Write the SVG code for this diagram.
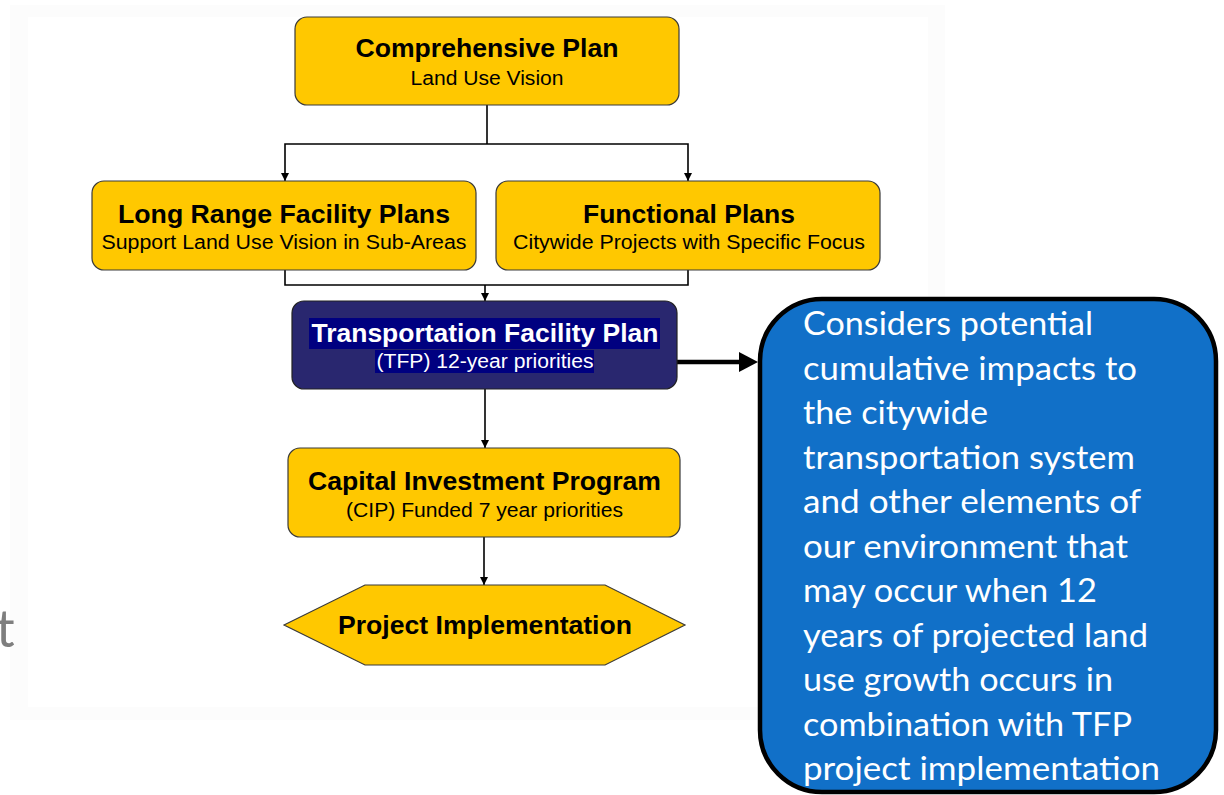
<svg xmlns="http://www.w3.org/2000/svg" width="1224" height="795" viewBox="0 0 1224 795">
<style>
.box{fill:#FFC800;stroke:#3a3a3a;stroke-width:1.2}
.t{font-family:"Liberation Sans",Arial,sans-serif;font-weight:bold;font-size:25px;fill:#000;text-anchor:middle}
.s{font-family:"Liberation Sans",Arial,sans-serif;font-size:20px;fill:#000;text-anchor:middle}
.c{font-family:Lato,"Open Sans",sans-serif;font-size:32px;fill:#fff}
.ln{fill:none;stroke:#000;stroke-width:1.6}
</style>
<defs>
<marker id="ah" viewBox="0 0 10 10" refX="10" refY="5" markerWidth="8" markerHeight="8" markerUnits="userSpaceOnUse" orient="auto">
<path d="M0,0 L10,5 L0,10 z" fill="#000"/>
</marker>
</defs>
<rect width="1224" height="795" fill="#fff"/>
<rect x="10" y="5" width="935" height="715" fill="#FCFCFC"/>
<rect x="28" y="17" width="900" height="690" fill="#FFFFFF"/>
<text x="-4" y="647" font-family="Lato,'Open Sans',sans-serif" font-size="52" fill="#7F7F7F">t</text>

<g id="connectors">
<polyline class="ln" points="487,105 487,144"/>
<polyline class="ln" points="487,144 285,144 285,181" marker-end="url(#ah)"/>
<polyline class="ln" points="487,144 688,144 688,181" marker-end="url(#ah)"/>
<polyline class="ln" points="285,270 285,285 688,285 688,270"/>
<line class="ln" x1="485" y1="285" x2="485" y2="301" marker-end="url(#ah)"/>
<line class="ln" x1="485" y1="389" x2="485" y2="448" marker-end="url(#ah)"/>
<line class="ln" x1="484" y1="537" x2="484" y2="585" marker-end="url(#ah)"/>
<line x1="670" y1="362" x2="742" y2="362" stroke="#000" stroke-width="4.5"/>
<polygon points="739,352 758,362 739,372" fill="#000"/>
</g>

<g id="comprehensive-plan">
<rect class="box" x="295" y="17" width="384" height="88" rx="12"/>
<text class="t" x="487" y="57" textLength="263" lengthAdjust="spacingAndGlyphs">Comprehensive Plan</text>
<text class="s" x="487" y="85" textLength="153" lengthAdjust="spacingAndGlyphs">Land Use Vision</text>
</g>

<g id="long-range-facility-plans">
<rect class="box" x="92" y="181" width="384" height="89" rx="12"/>
<text class="t" x="284" y="223" textLength="332" lengthAdjust="spacingAndGlyphs">Long Range Facility Plans</text>
<text class="s" x="284" y="249" textLength="365" lengthAdjust="spacingAndGlyphs">Support Land Use Vision in Sub-Areas</text>
</g>

<g id="functional-plans">
<rect class="box" x="496" y="181" width="384" height="89" rx="12"/>
<text class="t" x="689" y="223" textLength="212" lengthAdjust="spacingAndGlyphs">Functional Plans</text>
<text class="s" x="689" y="249" textLength="352" lengthAdjust="spacingAndGlyphs">Citywide Projects with Specific Focus</text>
</g>

<g id="transportation-facility-plan">
<rect x="292" y="301" width="385" height="88" rx="12" fill="#29276F" stroke="#222" stroke-width="1.2"/>
<rect x="309" y="318" width="351" height="31" fill="#000080"/>
<rect x="375" y="350" width="219" height="23" fill="#000080"/>
<text class="t" x="485" y="342" style="fill:#fff" textLength="347" lengthAdjust="spacingAndGlyphs">Transportation Facility Plan</text>
<text class="s" x="485" y="368" style="fill:#fff" textLength="217" lengthAdjust="spacingAndGlyphs">(TFP) 12-year priorities</text>
</g>

<g id="capital-investment-program">
<rect class="box" x="288" y="448" width="392" height="89" rx="12"/>
<text class="t" x="484.500" y="490" textLength="353" lengthAdjust="spacingAndGlyphs">Capital Investment Program</text>
<text class="s" x="484.500" y="517" textLength="277" lengthAdjust="spacingAndGlyphs">(CIP) Funded 7 year priorities</text>
</g>

<g id="project-implementation">
<polygon class="box" points="284,625 365,585 605,585 685,625 605,665 365,665"/>
<text class="t" x="485" y="634" textLength="294" lengthAdjust="spacingAndGlyphs">Project Implementation</text>
</g>

<g id="tfp-note">
<rect x="760" y="299" width="456" height="493" rx="62" fill="#1170C8" stroke="#000" stroke-width="4.5"/>
<text class="c" x="803" y="335" textLength="290" lengthAdjust="spacingAndGlyphs">Considers potential</text>
<text class="c" x="803" y="379.500" textLength="334" lengthAdjust="spacingAndGlyphs">cumulative impacts to</text>
<text class="c" x="803" y="424" textLength="185" lengthAdjust="spacingAndGlyphs">the citywide</text>
<text class="c" x="803" y="468.500" textLength="332" lengthAdjust="spacingAndGlyphs">transportation system</text>
<text class="c" x="803" y="513" textLength="338" lengthAdjust="spacingAndGlyphs">and other elements of</text>
<text class="c" x="803" y="557.500" textLength="325" lengthAdjust="spacingAndGlyphs">our environment that</text>
<text class="c" x="803" y="602" textLength="294" lengthAdjust="spacingAndGlyphs">may occur when 12</text>
<text class="c" x="803" y="646.500" textLength="345" lengthAdjust="spacingAndGlyphs">years of projected land</text>
<text class="c" x="803" y="691" textLength="310" lengthAdjust="spacingAndGlyphs">use growth occurs in</text>
<text class="c" x="803" y="735.500" textLength="329" lengthAdjust="spacingAndGlyphs">combination with TFP</text>
<text class="c" x="803" y="780" textLength="357" lengthAdjust="spacingAndGlyphs">project implementation</text>
</g>
</svg>
